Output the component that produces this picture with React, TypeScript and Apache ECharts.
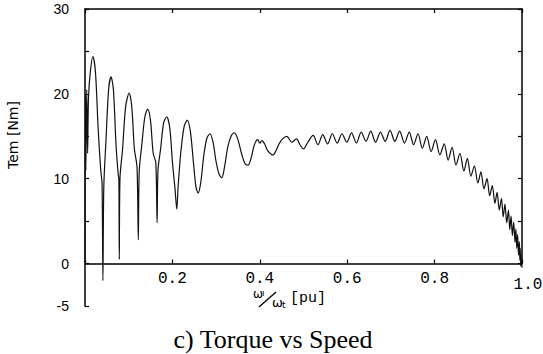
import React, { useEffect, useRef } from "react";
import * as echarts from "echarts";

// speed ratio (pu) and electromagnetic torque (Nm)
const speed = [
  0.0, 0.001, 0.002, 0.004, 0.006, 0.008, 0.012, 0.018, 0.024, 0.03, 0.036, 0.039, 0.041, 0.043, 0.048, 0.054,
  0.0595, 0.065, 0.071, 0.076, 0.0775, 0.0785, 0.08, 0.086, 0.093, 0.101, 0.107, 0.113, 0.119, 0.122, 0.124, 0.13,
  0.137, 0.1435, 0.15, 0.156, 0.162, 0.165, 0.167, 0.173, 0.18, 0.187, 0.194, 0.2, 0.206, 0.21, 0.213, 0.219,
  0.227, 0.234, 0.241, 0.248, 0.254, 0.259, 0.265, 0.272, 0.279, 0.286, 0.293, 0.3, 0.307, 0.313, 0.319, 0.327,
  0.335, 0.342, 0.35, 0.358, 0.366, 0.373, 0.38, 0.387, 0.395, 0.4, 0.405, 0.411, 0.418, 0.43, 0.437, 0.444,
  0.452, 0.462, 0.473, 0.484, 0.492, 0.5, 0.51, 0.522, 0.533, 0.544, 0.555, 0.566, 0.577, 0.588, 0.599, 0.61,
  0.621, 0.632, 0.643, 0.654, 0.665, 0.676, 0.687, 0.698, 0.709, 0.72, 0.731, 0.742, 0.752, 0.762, 0.772, 0.782,
  0.792, 0.802, 0.812, 0.822, 0.831, 0.84, 0.849, 0.858, 0.867, 0.875, 0.883, 0.891, 0.899, 0.906, 0.913, 0.92,
  0.926, 0.932, 0.938, 0.943, 0.948, 0.953, 0.957, 0.961, 0.965, 0.969, 0.972, 0.975, 0.978, 0.981, 0.984, 0.986,
  0.988, 0.99, 0.992, 0.994, 0.995, 0.996, 0.997, 0.998, 1.0,
];
const torque = [
  0, 20, 11, 20.5, 13, 19.5, 22.5, 24.4, 22.5, 16, 11, 9.5, -2.0, 9.0, 14.5, 20.5,
  22.0, 20.5, 14, 10.5, 10, 0.5, 10, 13.5, 18.5, 20.1, 18.5, 13.5, 11.4, 2.8, 10.8, 14,
  17.3, 18.2, 16.8, 13, 11.9, 4.8, 11, 13.5, 16.6, 17.3, 16, 12, 8.8, 6.4, 9, 13,
  16.2, 16.9, 15.6, 12, 9, 8.3, 9.6, 12.8, 14.8, 15.3, 14.3, 12, 10.5, 10.1, 11.3, 13.8,
  15.1, 15.4, 14.6, 13.0, 11.8, 11.6, 12.4, 13.9, 14.6, 14.2, 14.5, 14.1, 13.3, 12.8, 13.3, 14.1,
  14.7, 15.0, 14.3, 14.7, 14.0, 13.5, 14.3, 15.1, 14.0, 15.2, 14.1, 15.3, 14.2, 15.3, 14.3, 15.4,
  14.2, 15.5, 14.4, 15.6, 14.3, 15.5, 14.4, 15.7, 14.4, 15.6, 14.2, 15.5, 14.0, 15.3, 13.6, 15.0,
  13.2, 14.6, 12.8, 14.1, 12.2, 13.7, 11.6, 13.0, 10.9, 12.4, 10.3, 11.5, 9.5, 10.8, 8.8, 10.0,
  8.0, 9.2, 7.1, 8.4, 6.3, 7.7, 5.5, 7.0, 4.8, 6.3, 4.0, 5.6, 3.3, 4.9, 2.5, 4.1,
  1.8, 3.4, 1.0, 2.6, 0.4, 1.8, -0.3, 1.0, -0.5,
];

const xTickLabels = ["0.2", "0.4", "0.6", "0.8"];
const lastXLabel = "1.0";
const yTickLabels = [30, 20, 10, 0, -5];

export default function App() {
  const ref = useRef<HTMLDivElement>(null);
  useEffect(() => {
    if (!ref.current) return;
    const chart = echarts.init(ref.current, undefined, { renderer: "svg" });
    const data = speed.map((s, i) => [s, torque[i]]);
    const axisColor = "#000";
    const tick = { inside: true, length: 4, lineStyle: { color: axisColor, width: 1.2 } };
    const line = { onZero: false, lineStyle: { color: axisColor, width: 1.5 } };
    chart.setOption({
      animation: false,
      backgroundColor: "#fff",
      grid: [
        { left: 85, top: 9, width: 437, height: 297 },
        { left: 85, top: 9, width: 437, height: 254.6 },
      ],
      xAxis: [
        { gridIndex: 0, type: "value", min: 0, max: 1, show: false },
        {
          gridIndex: 1,
          type: "value",
          position: "bottom",
          min: 0,
          max: 1,
          interval: 0.2,
          axisLine: line,
          axisTick: tick,
          splitLine: { show: false },
          axisLabel: {
            margin: 7,
            color: "#000",
            fontFamily: "Liberation Mono",
            fontSize: 16,
            formatter: (v: number) => {
              const s = v.toFixed(1);
              return xTickLabels.indexOf(s) >= 0 ? s : "";
            },
          },
        },
        {
          gridIndex: 1,
          type: "value",
          position: "top",
          min: 0,
          max: 1,
          interval: 0.2,
          axisLine: line,
          axisTick: tick,
          axisLabel: { show: false },
          splitLine: { show: false },
        },
      ],
      yAxis: [
        {
          gridIndex: 0,
          type: "value",
          min: -5,
          max: 30,
          interval: 5,
          axisLine: { show: true, ...line },
          axisTick: { show: true, ...tick },
          splitLine: { show: false },
          axisLabel: {
            margin: 16,
            color: "#000",
            fontFamily: "Liberation Sans",
            fontSize: 14,
            formatter: (v: number) => (yTickLabels.indexOf(Math.round(v)) >= 0 ? String(Math.round(v)) : ""),
          },
        },
        {
          gridIndex: 1,
          type: "value",
          position: "right",
          min: 0,
          max: 30,
          interval: 5,
          axisLine: { show: true, ...line },
          axisTick: { show: true, ...tick },
          axisLabel: { show: false },
          splitLine: { show: false },
        },
      ],
      series: [
        {
          type: "line",
          xAxisIndex: 0,
          yAxisIndex: 0,
          data,
          showSymbol: false,
          smooth: 0.3,
          lineStyle: { color: "#111", width: 1.2 },
        },
      ],
      graphic: [
        {
          type: "text",
          x: 13,
          y: 135,
          rotation: Math.PI / 2,
          style: {
            text: "Tem [Nm]",
            fontFamily: "DejaVu Sans",
            fontSize: 14,
            fill: "#000",
            textAlign: "center",
            textVerticalAlign: "middle",
          },
        },
        {
          type: "text",
          x: 528,
          y: 285,
          style: {
            text: lastXLabel,
            fontFamily: "Liberation Mono",
            fontSize: 16,
            fill: "#000",
            textAlign: "center",
            textVerticalAlign: "middle",
          },
        },
        { type: "text", x: 253, y: 294, style: { text: "ω", fontFamily: "DejaVu Sans", fontSize: 12, fill: "#000", textVerticalAlign: "middle" } },
        { type: "text", x: 262, y: 293, style: { text: "ı", fontFamily: "DejaVu Sans", fontSize: 9, fill: "#000", textVerticalAlign: "middle" } },
        { type: "line", shape: { x1: 259, y1: 307, x2: 276, y2: 292 }, style: { stroke: "#000", lineWidth: 1.3 } },
        { type: "text", x: 272, y: 302, style: { text: "ω", fontFamily: "DejaVu Sans", fontSize: 13, fill: "#000", textVerticalAlign: "middle" } },
        { type: "text", x: 282, y: 305, style: { text: "t", fontFamily: "DejaVu Sans", fontSize: 9, fill: "#000", textVerticalAlign: "middle" } },
        { type: "text", x: 290, y: 298, style: { text: "[pu]", fontFamily: "Liberation Mono", fontSize: 15, fill: "#000", textVerticalAlign: "middle" } },
        {
          type: "text",
          x: 273,
          y: 339,
          style: {
            text: "c) Torque vs Speed",
            fontFamily: "Liberation Serif",
            fontSize: 26,
            fill: "#000",
            textAlign: "center",
            textVerticalAlign: "middle",
          },
        },
      ],
    });
    return () => chart.dispose();
  }, []);
  return <div ref={ref} style={{ position: "fixed", left: 0, top: 0, width: 543, height: 354, background: "#fff" }} />;
}
